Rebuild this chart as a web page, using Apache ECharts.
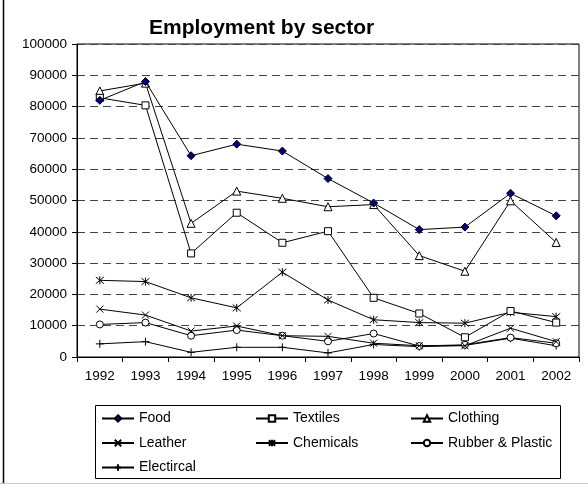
<!DOCTYPE html>
<html>
<head>
<meta charset="utf-8">
<script src="https://cdn.jsdelivr.net/npm/echarts@6/dist/echarts.min.js"></script>
<style>
html,body{margin:0;padding:0;background:#fff;}
#chart{width:588px;height:485px;}
</style>
</head>
<body>
<div id="chart"></div>
<script>
const years = ['1992','1993','1994','1995','1996','1997','1998','1999','2000','2001','2002'];
const yTicks = [0, 10000, 20000, 30000, 40000, 50000, 60000, 70000, 80000, 90000, 100000];
const food       = [82000, 88000, 64300, 68000, 65800, 57000, 49200, 40700, 41500, 52300, 45100];
const textiles   = [82800, 80400, 33100, 46100, 36500, 40200, 18900, 13900, 6300, 14700, 11000];
const clothing   = [85000, 87500, 42700, 53000, 50700, 48000, 48700, 32400, 27400, 49900, 36600];
const leather    = [15300, 13400, 8300, 9900, 6800, 6600, 4400, 3600, 3600, 9200, 4900];
const chemicals  = [24500, 24100, 18900, 15700, 27100, 18200, 11900, 11000, 10800, 14300, 12900];
const rubber     = [10400, 11000, 6800, 8600, 6800, 5000, 7500, 3500, 3900, 6200, 4400];
const electrical = [4200, 4900, 1500, 3100, 3100, 1300, 4000, 3300, 3700, 6000, 3600];

const FONT = '"Liberation Sans", Arial, sans-serif';
const X_PATH = 'path://M0,0L10,10M10,0L0,10';
const PLUS_PATH = 'path://M5,0L5,10M0,5L10,5';
const STAR_PATH = 'path://M0,0L10,10M10,0L0,10M5,-1L5,11';

function mk(name, data, symbol, size, fill, z) {
  return {
    name: name, type: 'line', data: data,
    symbol: symbol, symbolSize: size, showAllSymbol: true,
    lineStyle: { color: '#000', width: 1 },
    itemStyle: { color: fill, borderColor: '#000', borderWidth: 1 },
    emphasis: { disabled: true },
    animation: false,
    z: z
  };
}

const chart = echarts.init(document.getElementById('chart'), null, { renderer: 'canvas' });
const legendBase = {
  orient: 'vertical', padding: 0, itemGap: 10.5, itemWidth: 32, itemHeight: 8,
  textStyle: { fontFamily: FONT, fontSize: 14, color: '#000' },
  selectedMode: false
};
chart.setOption({
  backgroundColor: '#fff',
  animation: false,
  title: {
    text: 'Employment by sector', left: 149, top: 18, padding: 0,
    textStyle: { fontFamily: FONT, fontSize: 21, fontWeight: 'bold', color: '#000' }
  },
  grid: { left: 77, right: 9, top: 44, bottom: 128, show: true, borderColor: '#000', borderWidth: 1, containLabel: false },
  xAxis: {
    type: 'category', data: years, boundaryGap: true,
    axisLine: { lineStyle: { color: '#000', width: 1 } },
    axisTick: { show: true, length: 5, lineStyle: { color: '#000' } },
    axisLabel: { fontFamily: FONT, fontSize: 13.5, color: '#000', margin: 12 }
  },
  yAxis: {
    type: 'value', min: yTicks[0], max: yTicks[yTicks.length - 1], interval: yTicks[1] - yTicks[0],
    axisLine: { show: true, lineStyle: { color: '#000', width: 1 } },
    axisTick: { show: true, length: 5, lineStyle: { color: '#000' } },
    axisLabel: { fontFamily: FONT, fontSize: 13.5, color: '#000', margin: 10, formatter: function (v) { return String(v); } },
    splitLine: { show: true, lineStyle: { color: '#444', width: 1, type: [8, 5] } }
  },
  legend: [
    Object.assign({}, legendBase, { left: 101, top: 411.5, data: ['Food', 'Leather', 'Electircal'] }),
    Object.assign({}, legendBase, { left: 255, top: 411.5, data: ['Textiles', 'Chemicals'] }),
    Object.assign({}, legendBase, { left: 410, top: 411.5, data: ['Clothing', 'Rubber & Plastic'] })
  ],
  graphic: [
    { type: 'rect', shape: { x: 95.5, y: 405.5, width: 465, height: 73 }, style: { fill: 'none', stroke: '#000', lineWidth: 1 } },
    { type: 'line', shape: { x1: 3.5, y1: 0, x2: 3.5, y2: 483 }, style: { stroke: '#000', lineWidth: 1.5 } },
    { type: 'line', shape: { x1: 0, y1: 483.5, x2: 588, y2: 483.5 }, style: { stroke: '#ccc', lineWidth: 1 } }
  ],
  series: [
    mk('Food', food, 'diamond', 8, '#000080', 10),
    mk('Textiles', textiles, 'rect', 7, '#fff', 9),
    mk('Clothing', clothing, 'triangle', 8, '#fff', 8),
    mk('Leather', leather, X_PATH, 7, '#fff', 7),
    mk('Chemicals', chemicals, STAR_PATH, 8, '#fff', 6),
    mk('Rubber & Plastic', rubber, 'circle', 7, '#fff', 5),
    mk('Electircal', electrical, PLUS_PATH, 8, '#fff', 4)
  ]
});
</script>
</body>
</html>
